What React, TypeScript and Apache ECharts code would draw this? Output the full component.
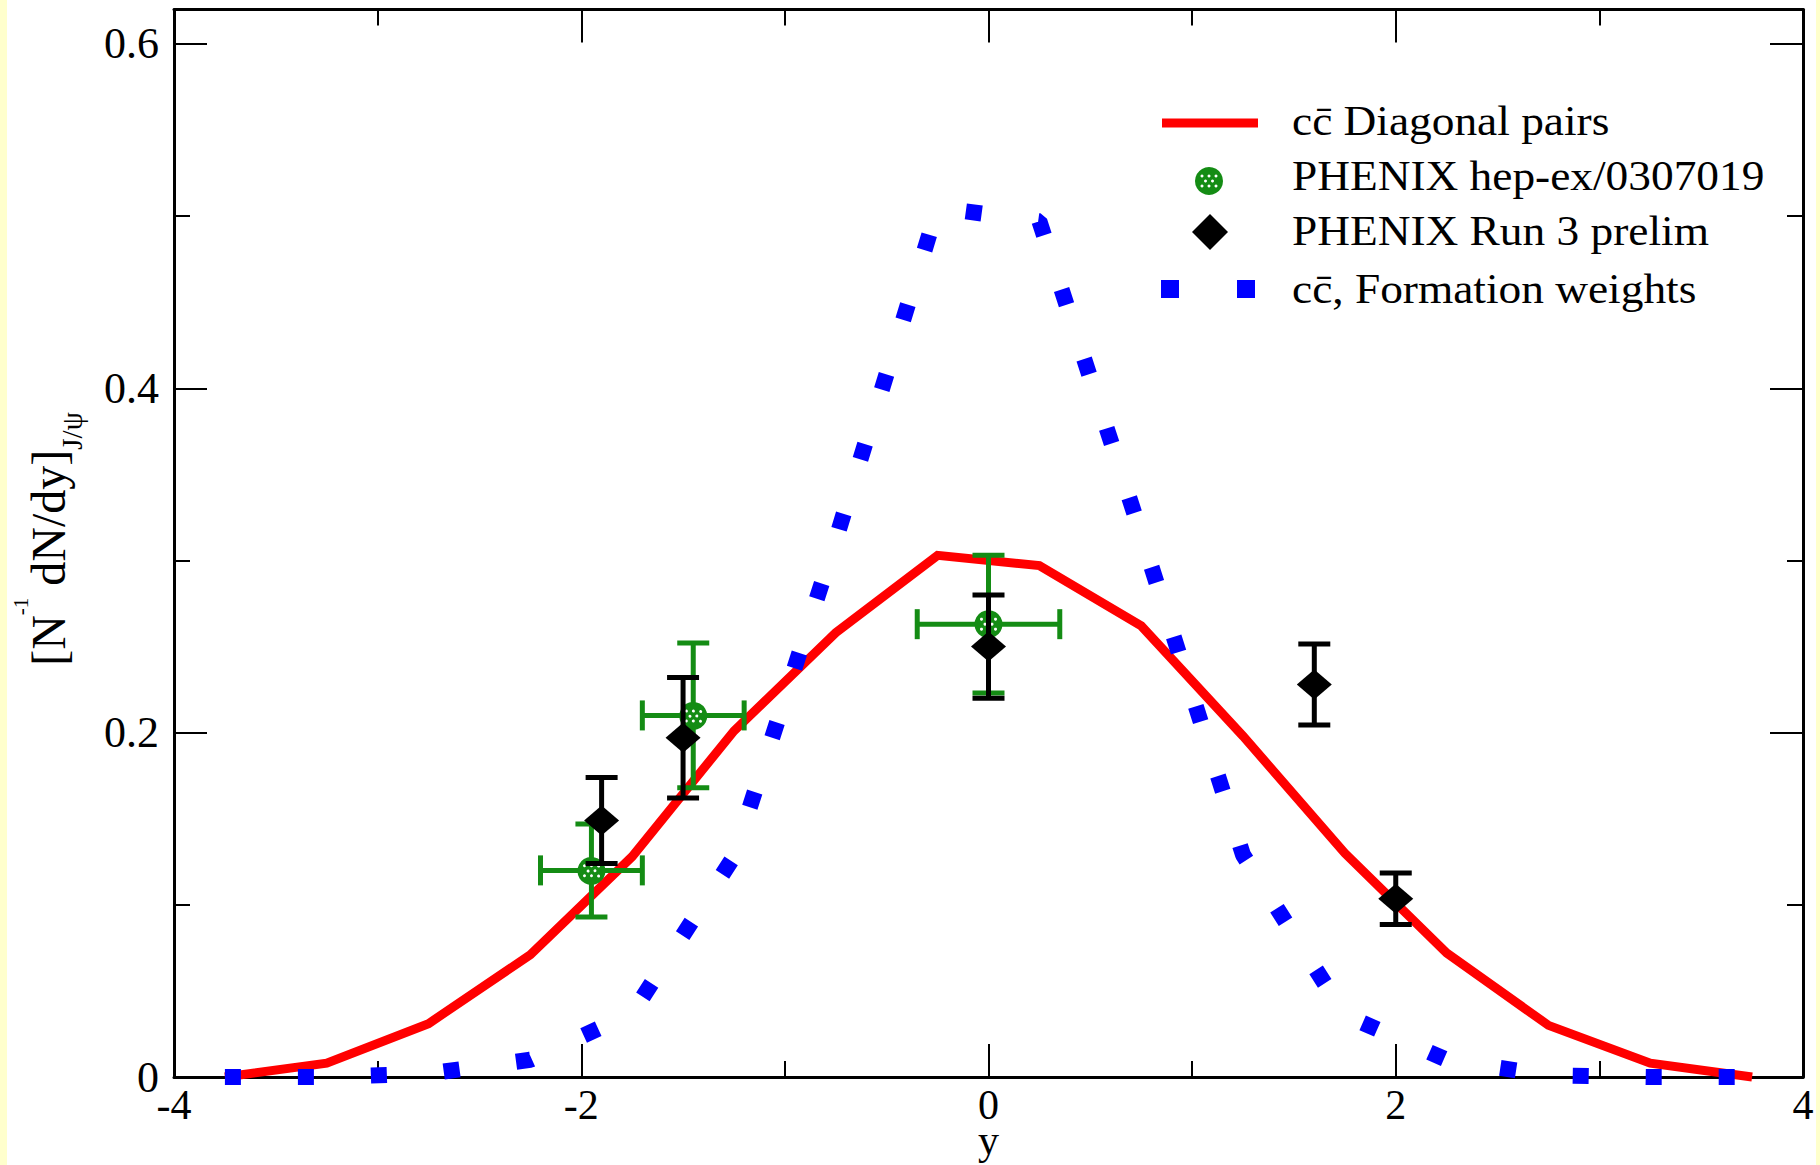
import React, { useEffect, useRef } from "react";
import * as echarts from "echarts";

// ---- data ----
const rapidity = [-3.75, -3.25, -2.75, -2.25, -1.75, -1.25, -0.75, -0.25, 0.25, 0.75, 1.25, 1.75, 2.25, 2.75, 3.25, 3.75];
const diagonalPairs = [0.0, 0.008, 0.031, 0.071, 0.128, 0.201, 0.258, 0.303, 0.297, 0.262, 0.198, 0.13, 0.072, 0.03, 0.008, 0.0];
const formationWeights = [0.0, 0.0, 0.002, 0.01, 0.037, 0.128, 0.312, 0.505, 0.497, 0.315, 0.129, 0.036, 0.01, 0.001, 0.0, 0.0];

const hepX = [-1.95, -1.45, 0.0];
const hepY = [0.12, 0.21, 0.263];
const hepXErr = [0.25, 0.25, 0.35];
const hepYErr = [0.027, 0.042, 0.04];

const run3X = [-1.9, -1.5, 0.0, 1.6, 2.0];
const run3Y = [0.149, 0.197, 0.25, 0.228, 0.1035];
const run3YErr = [0.025, 0.035, 0.03, 0.0235, 0.015];

const xMajorTicks = [-4, -2, 0, 2, 4];
const yMajorTicks = [0, 0.2, 0.4, 0.6];
const yMinorTicks = [0.1, 0.3, 0.5];

const legendNames = [
  "cc\u0304 Diagonal pairs",
  "PHENIX hep-ex/0307019",
  "PHENIX Run 3 prelim",
  "cc\u0304, Formation weights",
];

const FONT = "Liberation Serif";
const GREEN = "#148c14";

export default function App() {
  const ref = useRef<HTMLDivElement>(null);

  useEffect(() => {
    document.body.style.margin = "0";
    const chart = echarts.init(ref.current!, null, { renderer: "svg" });

    const axisLineStyle = { color: "#000", width: 3 };
    const tickStyle = { color: "#000", width: 2 };

    const xBase = (pos: string, labels: boolean) => ({
      type: "value",
      position: pos,
      min: xMajorTicks[0],
      max: xMajorTicks[xMajorTicks.length - 1],
      interval: 2,
      axisLine: { show: true, onZero: false, lineStyle: axisLineStyle },
      axisTick: { show: true, inside: true, length: 33, lineStyle: tickStyle },
      minorTick: { show: true, splitNumber: 2, length: 16, lineStyle: tickStyle },
      splitLine: { show: false },
      minorSplitLine: { show: false },
      axisLabel: {
        show: labels,
        margin: 14,
        fontSize: 42,
        lineHeight: 28,
        fontFamily: FONT,
        color: "#000",
        formatter: (v: number) => String(v),
      },
    });

    const yBase = (pos: string, minor: boolean, labels: boolean) => ({
      type: "value",
      position: pos,
      min: 0,
      max: 0.62,
      axisLine: { show: !minor, onZero: false, lineStyle: axisLineStyle },
      axisTick: {
        show: true,
        inside: true,
        length: minor ? 16 : 33,
        lineStyle: tickStyle,
        customValues: minor ? yMinorTicks : yMajorTicks,
      },
      splitLine: { show: false },
      axisLabel: {
        show: labels,
        customValues: yMajorTicks,
        margin: 15,
        fontSize: 44,
        fontFamily: FONT,
        color: "#000",
        formatter: (v: number) => (v === 0 ? "0" : v.toFixed(1)),
      },
    });

    const greenMarker = (cx: number, cy: number) => {
      const els: any[] = [
        { type: "circle", shape: { cx, cy, r: 14 }, style: { fill: GREEN } },
      ];
      const offs = [
        [-7, -5], [0, -5], [7, -5], [-7, 5], [0, 5], [7, 5], [-3.5, 0], [3.5, 0],
      ];
      offs.forEach(([dx, dy]) =>
        els.push({ type: "circle", shape: { cx: cx + dx, cy: cy + dy, r: 1.5 }, style: { fill: "#ffffff" } })
      );
      return els;
    };

    const option: any = {
      animation: false,
      backgroundColor: "#ffffff",
      grid: { left: 167, right: 13, top: 9.5, bottom: 88, containLabel: false, outerBoundsMode: "none" },
      xAxis: [
        {
          ...xBase("bottom", true),
          name: "y",
          nameLocation: "middle",
          nameGap: 49,
          nameMoveOverlap: false,
          nameTextStyle: { fontSize: 42, lineHeight: 28, fontFamily: FONT, color: "#000" },
        },
        xBase("top", false),
      ],
      yAxis: [
        yBase("left", false, true),
        yBase("left", true, false),
        yBase("right", false, false),
        yBase("right", true, false),
      ],
      series: [
        {
          name: legendNames[0],
          type: "line",
          data: rapidity.map((x, i) => [x, diagonalPairs[i]]),
          symbol: "none",
          clip: false,
          silent: true,
          lineStyle: { color: "#ff0000", width: 9, join: "miter" },
          z: 2,
        },
        {
          name: legendNames[3],
          type: "line",
          data: rapidity.map((x, i) => [x, formationWeights[i]]),
          symbol: "none",
          clip: false,
          silent: true,
          lineStyle: { color: "#0000ff", width: 16, type: [16, 57], dashOffset: 0, cap: "butt" },
          z: 3,
        },
        {
          name: legendNames[1],
          type: "custom",
          silent: true,
          data: hepX.map((x, i) => [x, hepY[i], hepXErr[i], hepYErr[i]]),
          encode: { x: 0, y: 1 },
          z: 4,
          renderItem: (params: any, api: any) => {
            const x = api.value(0);
            const y = api.value(1);
            const xe = api.value(2);
            const ye = api.value(3);
            const c = api.coord([x, y]);
            const l = api.coord([x - xe, y]);
            const r = api.coord([x + xe, y]);
            const t = api.coord([x, y + ye]);
            const b = api.coord([x, y - ye]);
            const st = { stroke: GREEN, lineWidth: 5 };
            const ln = (x1: number, y1: number, x2: number, y2: number) => ({
              type: "line",
              shape: { x1, y1, x2, y2 },
              style: st,
            });
            return {
              type: "group",
              children: [
                ln(l[0], c[1], r[0], c[1]),
                ln(c[0], t[1], c[0], b[1]),
                ln(l[0], c[1] - 15, l[0], c[1] + 15),
                ln(r[0], c[1] - 15, r[0], c[1] + 15),
                ln(c[0] - 16, t[1], c[0] + 16, t[1]),
                ln(c[0] - 16, b[1], c[0] + 16, b[1]),
                ...greenMarker(c[0], c[1]),
              ],
            };
          },
        },
        {
          name: legendNames[2] + " errors",
          type: "custom",
          silent: true,
          data: run3X.map((x, i) => [x, run3Y[i], run3YErr[i]]),
          encode: { x: 0, y: 1 },
          z: 5,
          renderItem: (params: any, api: any) => {
            const x = api.value(0);
            const y = api.value(1);
            const ye = api.value(2);
            const t = api.coord([x, y + ye]);
            const b = api.coord([x, y - ye]);
            const st = { stroke: "#000000", lineWidth: 5 };
            return {
              type: "group",
              children: [
                { type: "line", shape: { x1: t[0], y1: t[1], x2: b[0], y2: b[1] }, style: st },
                { type: "line", shape: { x1: t[0] - 16, y1: t[1], x2: t[0] + 16, y2: t[1] }, style: st },
                { type: "line", shape: { x1: b[0] - 16, y1: b[1], x2: b[0] + 16, y2: b[1] }, style: st },
              ],
            };
          },
        },
        {
          name: legendNames[2],
          type: "scatter",
          silent: true,
          emphasis: { disabled: true },
          data: run3X.map((x, i) => [x, run3Y[i]]),
          symbol: "diamond",
          symbolSize: [35, 30],
          itemStyle: { color: "#000000", opacity: 1 },
          clip: false,
          z: 6,
        },
      ],
      graphic: [
        {
          type: "text",
          x: 41,
          y: 539,
          rotation: Math.PI / 2,
          style: {
            text: "[N{sup|-1} dN/dy]{sub|J/\u03c8}",
            fontSize: 48,
            fontFamily: FONT,
            fill: "#000",
            align: "center",
            verticalAlign: "middle",
            lineHeight: 76,
            rich: {
              sup: { fontSize: 21, fontFamily: FONT, fill: "#000", verticalAlign: "top", lineHeight: 16 },
              sub: { fontSize: 29, fontFamily: FONT, fill: "#000", verticalAlign: "bottom", lineHeight: 19 },
            },
          },
        },
        // legend
        {
          type: "line",
          shape: { x1: 1155, y1: 123, x2: 1251, y2: 123 },
          style: { stroke: "#ff0000", lineWidth: 9 },
          z: 10,
        },
        ...greenMarker(1202, 181).map((e) => ({ ...e, z: 10 })),
        {
          type: "polygon",
          shape: { points: [[1203, 214], [1221, 232], [1203, 250], [1185, 232]] },
          style: { fill: "#000000" },
          z: 10,
        },
        { type: "rect", shape: { x: 1154, y: 280, width: 18, height: 18 }, style: { fill: "#0000ff" }, z: 10 },
        { type: "rect", shape: { x: 1230, y: 280, width: 18, height: 18 }, style: { fill: "#0000ff" }, z: 10 },
        ...legendNames.map((name, i) => ({
          type: "text",
          x: 1285,
          y: [121, 176, 231, 289][i],
          scaleX: 1.08,
          z: 10,
          style: {
            text: name,
            fontSize: 42,
            fontFamily: FONT,
            fill: "#000",
            align: "left",
            verticalAlign: "middle",
          },
        })),
      ],
    };

    chart.setOption(option);
    return () => chart.dispose();
  }, []);

  return (
    <div style={{ position: "fixed", left: 0, top: 0, width: 1820, height: 1165, background: "#ffffcc" }}>
      <div
        ref={ref}
        style={{ position: "absolute", left: 7, top: 0, width: 1809, height: 1165, background: "#ffffff" }}
      />
    </div>
  );
}
